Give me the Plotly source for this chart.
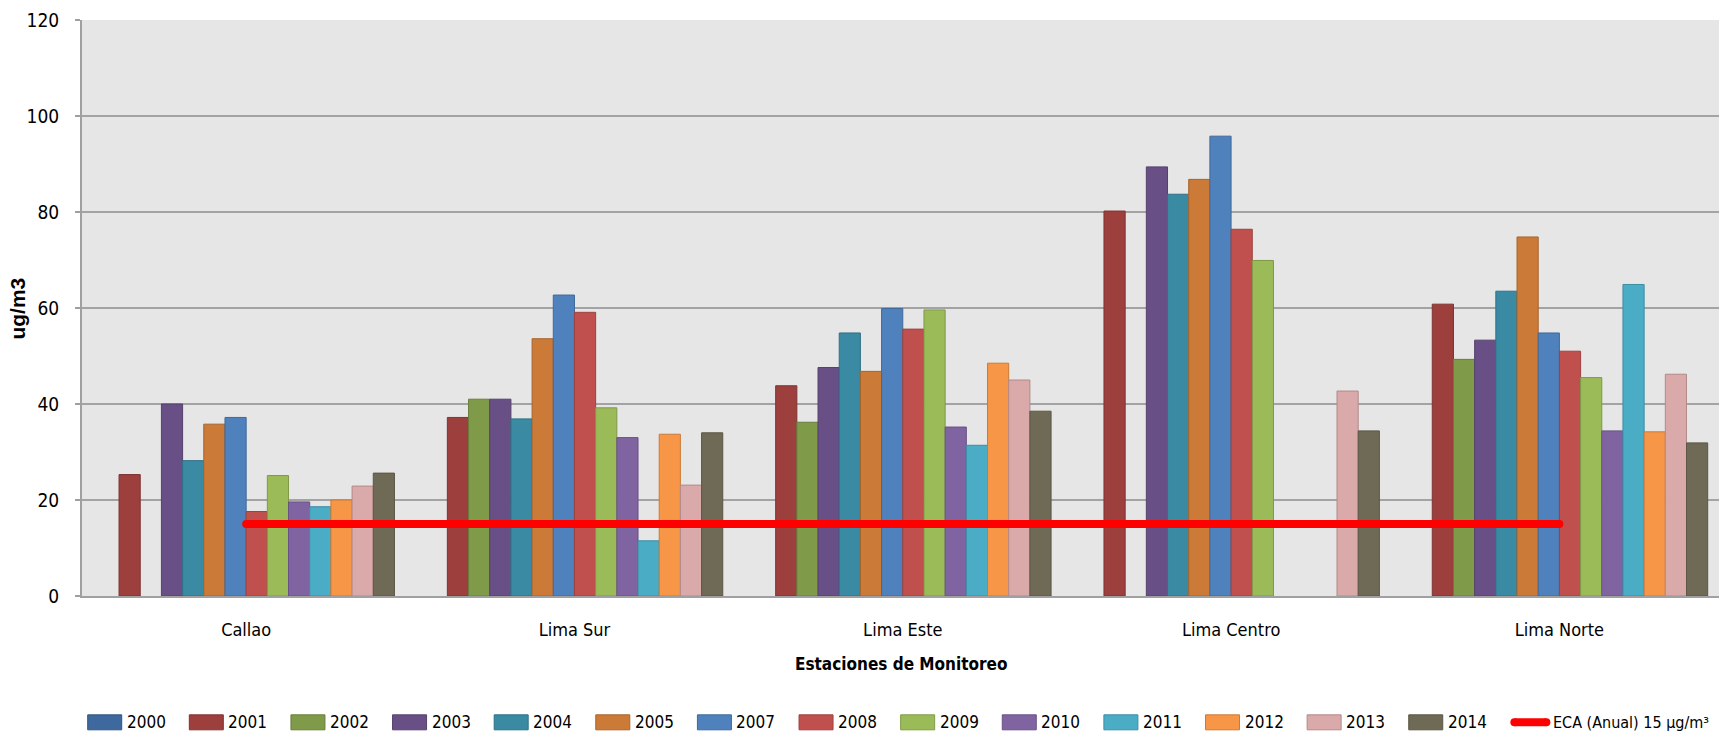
import plotly.graph_objects as go

# Stations (categories) and years (series)
stations = ["Callao", "Lima Sur", "Lima Este", "Lima Centro", "Lima Norte"]
years = ["2000", "2001", "2002", "2003", "2004", "2005", "2007",
         "2008", "2009", "2010", "2011", "2012", "2013", "2014"]

# Annual mean concentration per station (ug/m3); None = no data
v2000 = [None, None, None, None, None]
v2001 = [25.3, 37.2, 43.8, 80.2, 60.8]
v2002 = [None, 41.0, 36.2, None, 49.3]
v2003 = [40.0, 41.0, 47.6, 89.4, 53.3]
v2004 = [28.2, 36.9, 54.8, 83.7, 63.5]
v2005 = [35.8, 53.6, 46.8, 86.8, 74.8]
v2007 = [37.2, 62.7, 59.9, 95.8, 54.8]
v2008 = [17.6, 59.1, 55.6, 76.4, 51.0]
v2009 = [25.1, 39.2, 59.6, 69.9, 45.5]
v2010 = [19.6, 33.0, 35.2, None, 34.4]
v2011 = [18.6, 11.5, 31.4, None, 64.9]
v2012 = [20.0, 33.7, 48.5, None, 34.2]
v2013 = [22.9, 23.1, 45.0, 42.7, 46.2]
v2014 = [25.6, 34.0, 38.5, 34.4, 31.9]
series_values = [v2000, v2001, v2002, v2003, v2004, v2005, v2007,
                 v2008, v2009, v2010, v2011, v2012, v2013, v2014]

# Annual air-quality standard (ECA)
eca_label = "ECA (Anual) 15 µg/m³"
eca_value = [15, 15, 15, 15, 15]

colors = ["#3D699E", "#9C3F3D", "#7F9A48", "#684F86", "#3A8AA3", "#CC7A37",
          "#4F81BD", "#C0504D", "#9BBB59", "#8064A2", "#4BACC6", "#F79646",
          "#DAA9A9", "#6F6A55"]


def darker(hex_color, f=0.82):
    h = hex_color.lstrip("#")
    r, g, b = (int(h[i:i + 2], 16) for i in (0, 2, 4))
    return "rgb(%d,%d,%d)" % (r * f, g * f, b * f)


NARROW = "Liberation Sans Narrow, DejaVu Sans Condensed, sans-serif"

# Figure geometry (pixels)
W, H = 1719, 737
PL, PR = 82.3, 1719.0        # plot area left / right
PT, PB = 19.7, 596.5         # plot area top (y=120) / bottom (y=0)
CAT_W = 328.25               # pixel width of one category
GAP = 0.0966                 # fraction of category left empty between groups
n = len(years)
slot = (1 - GAP) / n
x_max = -0.5 + (PR - PL) / CAT_W

fig = go.Figure()
for i, (yr, vals) in enumerate(zip(years, series_values)):
    fig.add_trace(go.Bar(
        x=stations, y=vals, name=yr,
        width=slot, offset=-0.5 + GAP / 2 + i * slot,
        marker=dict(color=colors[i], line=dict(color=darker(colors[i]), width=1)),
        showlegend=False,
    ))

fig.add_trace(go.Scatter(
    x=stations, y=eca_value, name=eca_label, mode="lines+markers",
    line=dict(color="#FF0000", width=8),
    marker=dict(color="#FF0000", size=8),
    showlegend=False,
))


def px_to_paper_x(px):
    return (px - PL) / (PR - PL)


def px_to_paper_y(py):
    return (PB - py) / (PB - PT)


# Legend row drawn along the bottom
shapes = []
annotations = []
LEG_Y = 723
LEG_X0 = 88
LEG_STEP = 101.6
SW_W, SW_H = 34, 15
for i, yr in enumerate(years):
    x0 = LEG_X0 + i * LEG_STEP
    shapes.append(dict(
        type="rect", xref="paper", yref="paper",
        x0=px_to_paper_x(x0), x1=px_to_paper_x(x0 + SW_W),
        y0=px_to_paper_y(LEG_Y + SW_H / 2), y1=px_to_paper_y(LEG_Y - SW_H / 2),
        fillcolor=colors[i], line=dict(color=darker(colors[i]), width=1),
    ))
    annotations.append(dict(
        x=px_to_paper_x(x0 + SW_W + 3), y=px_to_paper_y(LEG_Y),
        xref="paper", yref="paper", xanchor="left", yanchor="middle",
        text=yr, showarrow=False,
        font=dict(family=NARROW, size=17, color="#000000"),
    ))

# ECA legend entry: thick red line with rounded ends
ex0 = LEG_X0 + len(years) * LEG_STEP + 4
ex1 = ex0 + 32
r = 4
shapes.append(dict(
    type="rect", xref="paper", yref="paper",
    x0=px_to_paper_x(ex0), x1=px_to_paper_x(ex1),
    y0=px_to_paper_y(LEG_Y + r), y1=px_to_paper_y(LEG_Y - r),
    fillcolor="#FF0000", line=dict(width=0),
))
for cx in (ex0, ex1):
    shapes.append(dict(
        type="circle", xref="paper", yref="paper",
        x0=px_to_paper_x(cx - r), x1=px_to_paper_x(cx + r),
        y0=px_to_paper_y(LEG_Y + r), y1=px_to_paper_y(LEG_Y - r),
        fillcolor="#FF0000", line=dict(width=0),
    ))
annotations.append(dict(
    x=px_to_paper_x(ex1 + r + 1), y=px_to_paper_y(LEG_Y),
    xref="paper", yref="paper", xanchor="left", yanchor="middle",
    text=eca_label, showarrow=False,
    font=dict(family=NARROW, size=16, color="#000000"),
))

# Axis titles
annotations.append(dict(
    x=px_to_paper_x(901), y=px_to_paper_y(665), xref="paper", yref="paper",
    xanchor="center", yanchor="middle", text="<b>Estaciones de Monitoreo</b>",
    showarrow=False, font=dict(family=NARROW, size=17, color="#000000"),
))
annotations.append(dict(
    x=px_to_paper_x(18), y=px_to_paper_y(309), xref="paper", yref="paper",
    xanchor="center", yanchor="middle", text="<b>ug/m3</b>", textangle=-90,
    showarrow=False, font=dict(family="Liberation Sans, Arial, sans-serif", size=21, color="#000000"),
))

fig.update_layout(
    width=W, height=H,
    margin=dict(l=PL, r=W - PR, t=PT, b=H - PB, pad=0),
    paper_bgcolor="#FFFFFF",
    plot_bgcolor="#E6E6E6",
    barmode="overlay",
    showlegend=False,
    shapes=shapes,
    annotations=annotations,
    xaxis=dict(
        type="category", range=[-0.5, x_max],
        showgrid=False, zeroline=False,
        showline=True, linecolor="#A0A0A0", linewidth=2,
        ticks="", ticklabelstandoff=16,
        tickfont=dict(family=NARROW, size=18, color="#000000"),
    ),
    yaxis=dict(
        range=[0, 120], tick0=0, dtick=20,
        showgrid=True, gridcolor="#A3A3A3", gridwidth=2,
        zeroline=False,
        showline=True, linecolor="#A0A0A0", linewidth=2,
        ticks="outside", ticklen=5, tickcolor="#A0A0A0", tickwidth=2,
        ticklabelstandoff=12,
        tickfont=dict(family=NARROW, size=19, color="#000000"),
    ),
)

fig.write_html("out.html")
